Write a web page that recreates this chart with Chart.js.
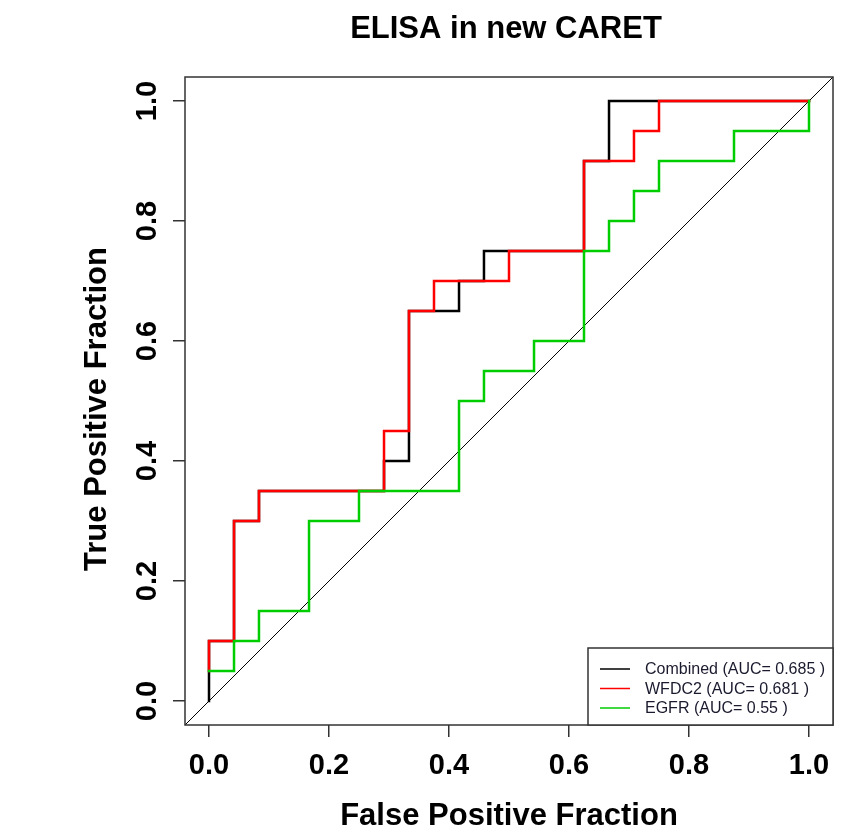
<!DOCTYPE html>
<html>
<head>
<meta charset="utf-8">
<title>ELISA in new CARET</title>
<script src="https://cdn.jsdelivr.net/npm/chart.js@4.4.1/dist/chart.umd.min.js"></script>
<style>
    html, body { margin: 0; padding: 0; background: #ffffff; }
    #wrap { width: 854px; height: 838px; }
</style>
</head>
<body>
<div id="wrap"><canvas id="rocChart" width="854" height="838"></canvas></div>
<script>
// --- Chart data ---
const chartTitle = 'ELISA in new CARET';
const xTitle = 'False Positive Fraction';
const yTitle = 'True Positive Fraction';
const tickValues = [0, 0.2, 0.4, 0.6, 0.8, 1.0];

const seriesLabels = ['Combined (AUC= 0.685 )', 'WFDC2 (AUC= 0.681 )', 'EGFR (AUC= 0.55 )'];
const seriesColors = ['#000000', '#ff0000', '#00cd00'];

const combinedFpr = [0, 0, 0.0417, 0.0417, 0.0833, 0.0833, 0.2917, 0.2917, 0.3333, 0.3333, 0.4167, 0.4167, 0.4583, 0.4583, 0.625, 0.625, 0.6667, 0.6667, 1];
const combinedTpr = [0, 0.1, 0.1, 0.3, 0.3, 0.35, 0.35, 0.4, 0.4, 0.65, 0.65, 0.7, 0.7, 0.75, 0.75, 0.9, 0.9, 1, 1];

const wfdc2Fpr = [0, 0, 0.0417, 0.0417, 0.0833, 0.0833, 0.2917, 0.2917, 0.3333, 0.3333, 0.375, 0.375, 0.5, 0.5, 0.625, 0.625, 0.7083, 0.7083, 0.75, 0.75, 1];
const wfdc2Tpr = [0.05, 0.1, 0.1, 0.3, 0.3, 0.35, 0.35, 0.45, 0.45, 0.65, 0.65, 0.7, 0.7, 0.75, 0.75, 0.9, 0.9, 0.95, 0.95, 1, 1];

const egfrFpr = [0, 0.0417, 0.0417, 0.0833, 0.0833, 0.1667, 0.1667, 0.25, 0.25, 0.4167, 0.4167, 0.4583, 0.4583, 0.5417, 0.5417, 0.625, 0.625, 0.6667, 0.6667, 0.7083, 0.7083, 0.75, 0.75, 0.875, 0.875, 1, 1];
const egfrTpr = [0.05, 0.05, 0.1, 0.1, 0.15, 0.15, 0.3, 0.3, 0.35, 0.35, 0.5, 0.5, 0.55, 0.55, 0.6, 0.6, 0.75, 0.75, 0.8, 0.8, 0.85, 0.85, 0.9, 0.9, 0.95, 0.95, 1];

// reference diagonal (abline) runs across the whole box
const diagonal = [-0.04, 1.04];
const axisMin = -0.04;
const axisMax = 1.04;

const FONT = '"Liberation Sans", Arial, sans-serif';

function toPoints(xs, ys) {
    return xs.map((x, i) => ({ x: x, y: ys[i] }));
}

// --- Plugin: box, rotated y labels, titles and legend (R base-graphics look) ---
const rDecorations = {
    id: 'rDecorations',
    afterDraw(chart) {
        const ctx = chart.ctx;
        const area = chart.chartArea;
        const yScale = chart.scales.y;

        ctx.save();
        // plot box
        ctx.strokeStyle = '#333333';
        ctx.lineWidth = 1.5;
        ctx.strokeRect(area.left, area.top, area.right - area.left, area.bottom - area.top);

        // main title
        ctx.fillStyle = '#000000';
        ctx.font = 'bold 31px ' + FONT;
        ctx.textAlign = 'center';
        ctx.textBaseline = 'middle';
        ctx.fillText(chartTitle, (area.left + area.right) / 2 - 3, 29);

        // y tick labels, rotated like R's las=0
        ctx.font = 'bold 29px ' + FONT;
        tickValues.forEach(v => {
            const py = yScale.getPixelForValue(v);
            ctx.save();
            ctx.translate(148, py);
            ctx.rotate(-Math.PI / 2);
            ctx.fillText(v.toFixed(1), 0, 0);
            ctx.restore();
        });

        // y axis title
        ctx.save();
        ctx.font = 'bold 31px ' + FONT;
        ctx.translate(97, (area.top + area.bottom) / 2 + 8);
        ctx.rotate(-Math.PI / 2);
        ctx.fillText(yTitle, 0, 0);
        ctx.restore();

        // legend in the bottom-right corner
        const boxW = 245;
        const boxH = 77;
        const bx = area.right - boxW;
        const by = area.bottom - boxH;
        ctx.fillStyle = '#ffffff';
        ctx.fillRect(bx, by, boxW, boxH);
        ctx.strokeStyle = '#333333';
        ctx.lineWidth = 1.5;
        ctx.strokeRect(bx, by, boxW, boxH);
        ctx.font = '16px ' + FONT;
        ctx.textAlign = 'left';
        seriesLabels.forEach((label, i) => {
            const ly = by + 21 + i * 19.5;
            ctx.strokeStyle = seriesColors[i];
            ctx.lineWidth = 1.5;
            ctx.beginPath();
            ctx.moveTo(bx + 12, ly);
            ctx.lineTo(bx + 42, ly);
            ctx.stroke();
            ctx.fillStyle = '#1a1a2e';
            ctx.fillText(label, bx + 57, ly + 1);
        });
        ctx.restore();
    }
};

const whiteBackground = {
    id: 'whiteBackground',
    beforeDraw(chart) {
        const ctx = chart.ctx;
        ctx.save();
        ctx.fillStyle = '#ffffff';
        ctx.fillRect(0, 0, chart.width, chart.height);
        ctx.restore();
    }
};

function setTicks(scale) {
    scale.ticks = tickValues.map(v => ({ value: v }));
}

const ctx = document.getElementById('rocChart').getContext('2d');
new Chart(ctx, {
    type: 'scatter',
    data: {
        datasets: [
            {
                label: seriesLabels[2],
                data: toPoints(egfrFpr, egfrTpr),
                borderColor: seriesColors[2],
                order: 0
            },
            {
                label: seriesLabels[1],
                data: toPoints(wfdc2Fpr, wfdc2Tpr),
                borderColor: seriesColors[1],
                order: 1
            },
            {
                label: seriesLabels[0],
                data: toPoints(combinedFpr, combinedTpr),
                borderColor: seriesColors[0],
                order: 2
            },
            {
                label: 'diagonal',
                data: toPoints(diagonal, diagonal),
                borderColor: '#000000',
                borderWidth: 1,
                order: 3
            }
        ]
    },
    options: {
        responsive: false,
        animation: false,
        showLine: true,
        layout: { padding: { top: 77, right: 21, left: 0, bottom: 0 } },
        elements: {
            point: { radius: 0, hoverRadius: 0 },
            line: { borderWidth: 2.5, tension: 0, fill: false, borderCapStyle: 'square' }
        },
        plugins: {
            legend: { display: false },
            title: { display: false },
            tooltip: { enabled: false }
        },
        scales: {
            x: {
                type: 'linear',
                min: axisMin,
                max: axisMax,
                afterBuildTicks: setTicks,
                afterFit: (scale) => { scale.height = 113; },
                border: { display: false },
                grid: { drawOnChartArea: false, drawTicks: true, tickLength: 12, color: '#333333', lineWidth: 1.5 },
                ticks: {
                    color: '#000000',
                    padding: 12,
                    maxRotation: 0,
                    font: { family: FONT, size: 29, weight: 'bold' },
                    callback: (v) => Number(v).toFixed(1)
                },
                title: {
                    display: true,
                    text: xTitle,
                    color: '#000000',
                    padding: { top: 3, bottom: 3 },
                    font: { family: FONT, size: 31, weight: 'bold' }
                }
            },
            y: {
                type: 'linear',
                min: axisMin,
                max: axisMax,
                afterBuildTicks: setTicks,
                afterFit: (scale) => { scale.width = 185; },
                border: { display: false },
                grid: { drawOnChartArea: false, drawTicks: true, tickLength: 12, color: '#333333', lineWidth: 1.5 },
                ticks: {
                    color: 'rgba(0,0,0,0)',
                    font: { family: FONT, size: 29, weight: 'bold' },
                    callback: (v) => Number(v).toFixed(1)
                }
            }
        }
    },
    plugins: [whiteBackground, rDecorations]
});
</script>
</body>
</html>
